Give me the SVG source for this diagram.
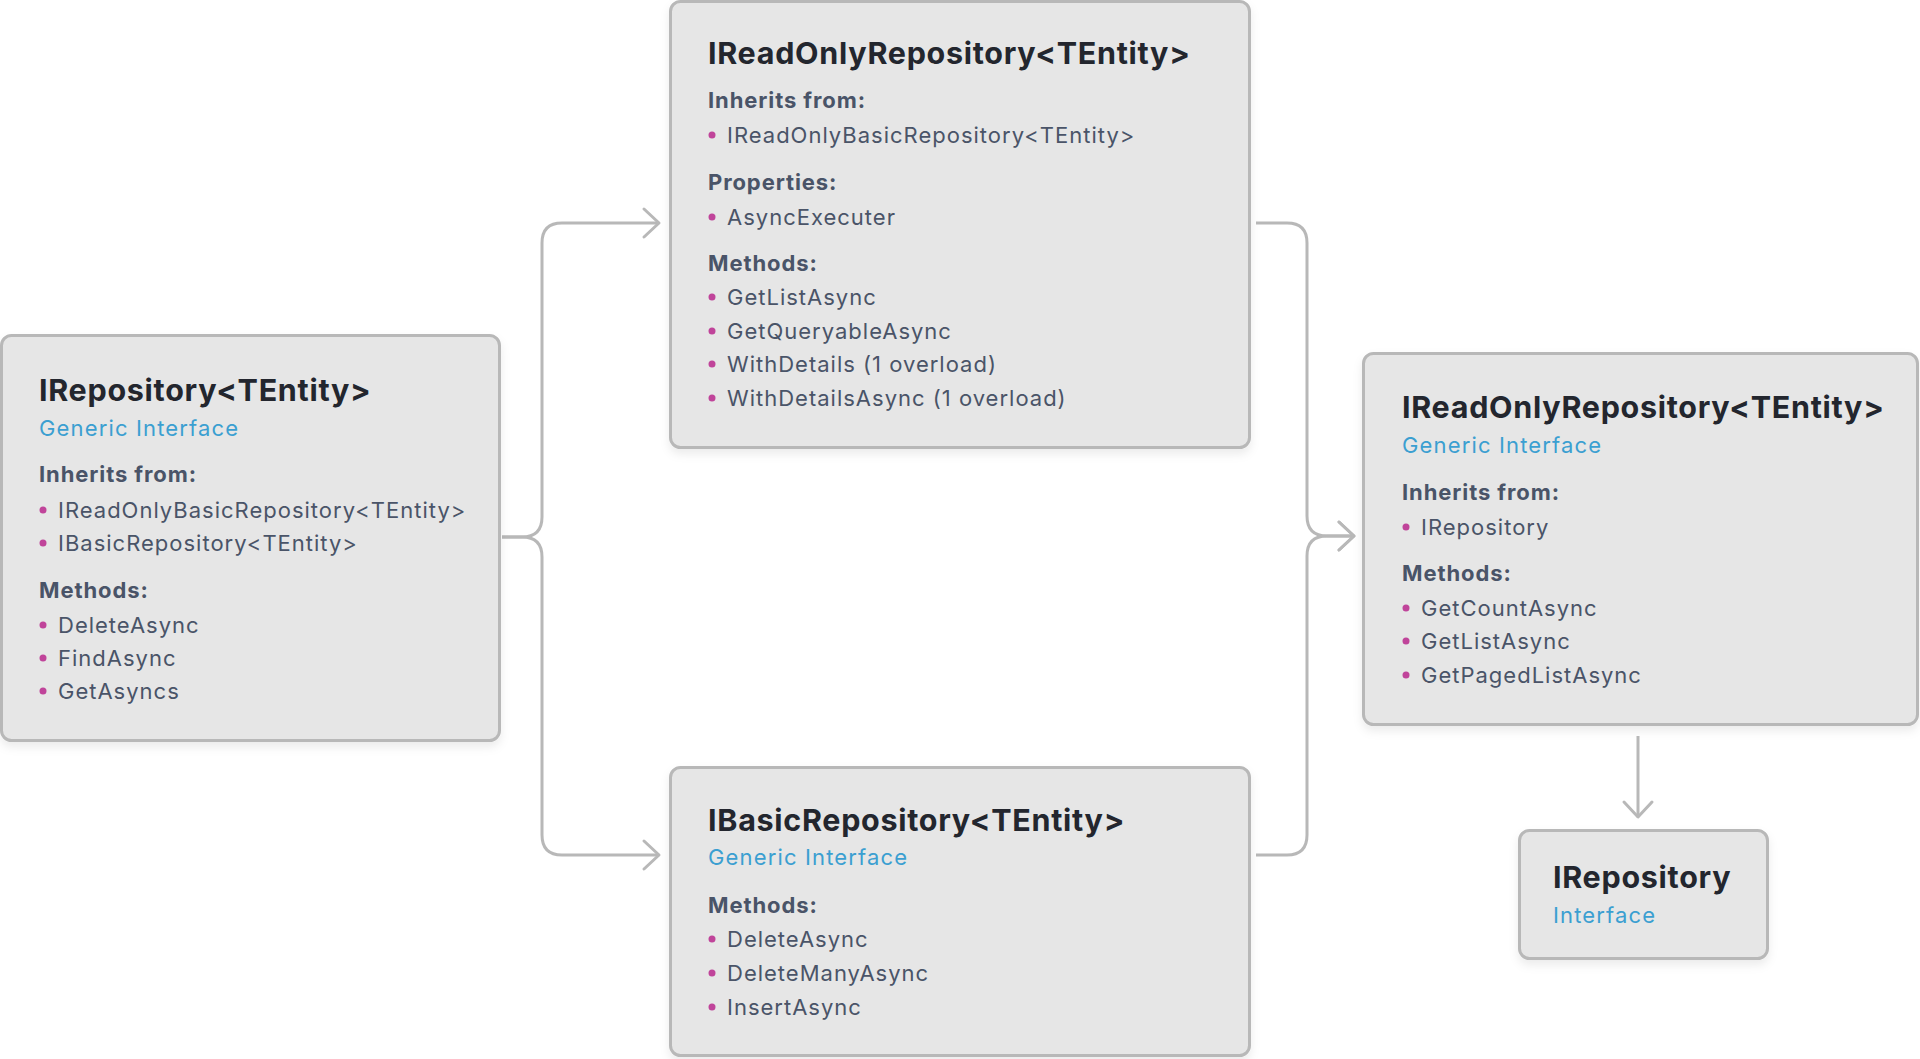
<svg xmlns="http://www.w3.org/2000/svg" width="1920" height="1059" viewBox="0 0 1920 1059">
<defs>
<filter id="sh" x="-10%" y="-10%" width="120%" height="125%">
<feDropShadow dx="0" dy="5" stdDeviation="5" flood-color="#000" flood-opacity="0.08"/>
</filter>
<marker id="arr" markerUnits="userSpaceOnUse" markerWidth="40" markerHeight="40" viewBox="-20 -20 40 40" refX="0" refY="0" orient="auto">
<path d="M-15,-14 L0,0 L-15,14" fill="none" stroke="#b8b8b8" stroke-width="3" stroke-linecap="round" stroke-linejoin="round"/>
</marker>
<style>
.box{fill:#e6e6e6;stroke:#b8b8b8;stroke-width:3;filter:url(#sh)}
.t{font-family:Inter,"Noto Sans",sans-serif;font-weight:700;font-size:30.5px;letter-spacing:0.7px;fill:#23262e}
.s{font-family:Inter,"Noto Sans",sans-serif;font-size:22px;letter-spacing:1.15px;fill:#3b9fd1}
.h{font-family:Inter,"Noto Sans",sans-serif;font-weight:700;font-size:22px;letter-spacing:0.9px;fill:#4a5468}
.i{font-family:Inter,"Noto Sans",sans-serif;font-size:22px;letter-spacing:1px;fill:#4a5468}
.b{fill:#c0449a}
.c{fill:none;stroke:#b8b8b8;stroke-width:3;marker-end:url(#arr)}
</style>
</defs>
<rect width="1920" height="1059" fill="#ffffff"/>
<g id="connectors">
<path class="c" d="M502,537 H522 Q542,537 542,517 V243 Q542,223 562,223 H659"/>
<path class="c" d="M502,537 H522 Q542,537 542,557 V835 Q542,855 562,855 H659"/>
<path class="c" d="M1256,223 H1287 Q1307,223 1307,243 V516 Q1307,536 1327,536 H1354"/>
<path class="c" d="M1256,855 H1287 Q1307,855 1307,835 V556 Q1307,536 1327,536 H1354"/>
<path class="c" d="M1638,736 V817"/>
</g>
<g id="IRepositoryTEntity">
<rect class="box" x="1.5" y="335.5" width="498" height="405" rx="10"/>
<text class="t" x="39" y="401">IRepository&lt;TEntity&gt;</text>
<text class="s" x="39" y="436">Generic Interface</text>
<text class="h" x="39" y="482">Inherits from:</text>
<circle class="b" cx="43" cy="510" r="3.5"/><text class="i" x="58" y="518">IReadOnlyBasicRepository&lt;TEntity&gt;</text>
<circle class="b" cx="43" cy="543" r="3.5"/><text class="i" x="58" y="551">IBasicRepository&lt;TEntity&gt;</text>
<text class="h" x="39" y="598">Methods:</text>
<circle class="b" cx="43" cy="625" r="3.5"/><text class="i" x="58" y="633">DeleteAsync</text>
<circle class="b" cx="43" cy="658" r="3.5"/><text class="i" x="58" y="666">FindAsync</text>
<circle class="b" cx="43" cy="691" r="3.5"/><text class="i" x="58" y="699">GetAsyncs</text>
</g>
<g id="IReadOnlyRepositoryTop">
<rect class="box" x="670.5" y="1.5" width="579" height="446" rx="10"/>
<text class="t" x="708" y="64">IReadOnlyRepository&lt;TEntity&gt;</text>
<text class="h" x="708" y="108">Inherits from:</text>
<circle class="b" cx="712" cy="135" r="3.5"/><text class="i" x="727" y="143">IReadOnlyBasicRepository&lt;TEntity&gt;</text>
<text class="h" x="708" y="190">Properties:</text>
<circle class="b" cx="712" cy="217" r="3.5"/><text class="i" x="727" y="225">AsyncExecuter</text>
<text class="h" x="708" y="271">Methods:</text>
<circle class="b" cx="712" cy="297" r="3.5"/><text class="i" x="727" y="305">GetListAsync</text>
<circle class="b" cx="712" cy="331" r="3.5"/><text class="i" x="727" y="339">GetQueryableAsync</text>
<circle class="b" cx="712" cy="364" r="3.5"/><text class="i" x="727" y="372">WithDetails (1 overload)</text>
<circle class="b" cx="712" cy="398" r="3.5"/><text class="i" x="727" y="406">WithDetailsAsync (1 overload)</text>
</g>
<g id="IBasicRepository">
<rect class="box" x="670.5" y="767.5" width="579" height="288" rx="10"/>
<text class="t" x="708" y="831">IBasicRepository&lt;TEntity&gt;</text>
<text class="s" x="708" y="865">Generic Interface</text>
<text class="h" x="708" y="913">Methods:</text>
<circle class="b" cx="712" cy="939" r="3.5"/><text class="i" x="727" y="947">DeleteAsync</text>
<circle class="b" cx="712" cy="973" r="3.5"/><text class="i" x="727" y="981">DeleteManyAsync</text>
<circle class="b" cx="712" cy="1007" r="3.5"/><text class="i" x="727" y="1015">InsertAsync</text>
</g>
<g id="IReadOnlyRepositoryRight">
<rect class="box" x="1363.5" y="353.5" width="554" height="371" rx="10"/>
<text class="t" x="1402" y="418">IReadOnlyRepository&lt;TEntity&gt;</text>
<text class="s" x="1402" y="453">Generic Interface</text>
<text class="h" x="1402" y="500">Inherits from:</text>
<circle class="b" cx="1406" cy="527" r="3.5"/><text class="i" x="1421" y="535">IRepository</text>
<text class="h" x="1402" y="581">Methods:</text>
<circle class="b" cx="1406" cy="608" r="3.5"/><text class="i" x="1421" y="616">GetCountAsync</text>
<circle class="b" cx="1406" cy="641" r="3.5"/><text class="i" x="1421" y="649">GetListAsync</text>
<circle class="b" cx="1406" cy="675" r="3.5"/><text class="i" x="1421" y="683">GetPagedListAsync</text>
</g>
<g id="IRepository">
<rect class="box" x="1519.5" y="830.5" width="248" height="128" rx="10"/>
<text class="t" x="1553" y="888">IRepository</text>
<text class="s" x="1553" y="923">Interface</text>
</g>
</svg>
